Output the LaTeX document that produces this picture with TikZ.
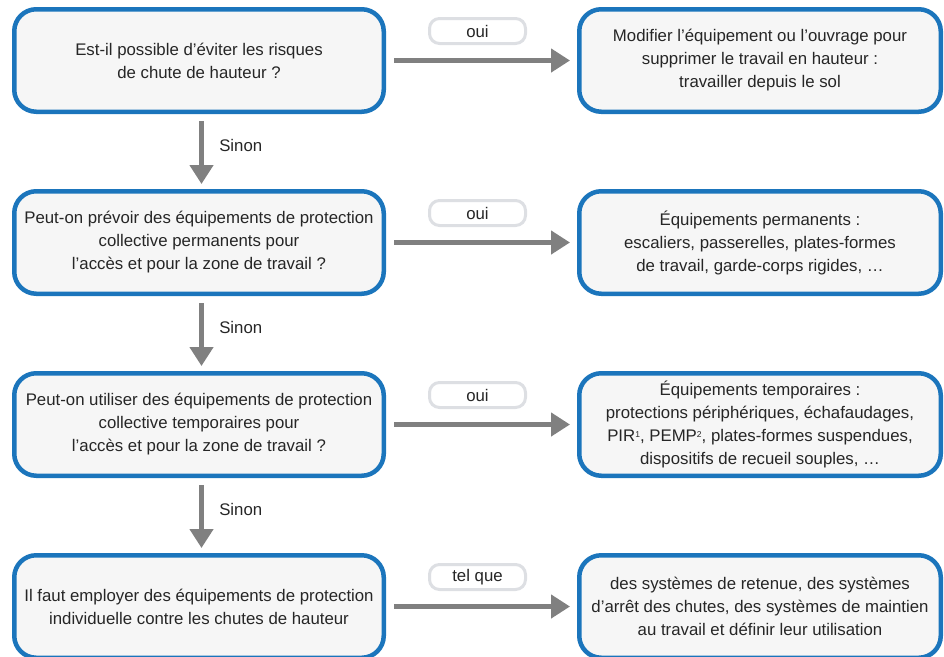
\documentclass[tikz,border=0pt]{standalone}
\usepackage{fontspec}
\setmainfont{Liberation Sans}
\usepackage{xcolor}
\usetikzlibrary{arrows.meta, positioning}

\definecolor{bordbleu}{HTML}{1B75BC}
\definecolor{fondgris}{HTML}{F6F6F6}
\definecolor{flechegris}{HTML}{808080}
\definecolor{cadreclair}{HTML}{DDDFE3}
\definecolor{textegris}{HTML}{262626}

\newcommand{\exposant}[1]{\raisebox{4.5pt}{\fontsize{8.5}{8.5}\selectfont #1}}

\tikzset{
  question/.style={draw=bordbleu, line width=4.5pt, fill=fondgris, rounded corners=22pt,
    minimum width=369.5pt, minimum height=102.5pt, inner sep=0pt, align=center,
    text=textegris, font=\fontsize{16.8}{23}\selectfont},
  reponse/.style={question, minimum width=361.5pt},
  etiquette/.style={draw=cadreclair, line width=3pt, fill=white, rounded corners=10pt,
    minimum width=96pt, minimum height=25pt, inner sep=0pt,
    text=textegris, font=\fontsize{16.8}{20}\selectfont},
  fleche/.style={draw=flechegris, line width=4.5pt, -{Triangle[length=19pt, width=23pt]}},
  sinon/.style={inner sep=0pt, text=textegris, font=\fontsize{16.8}{20}\selectfont}
}

\begin{document}
\begin{tikzpicture}[x=1pt, y=-1pt]
		\useasboundingbox (0,0) rectangle (944,656);

		\node[question] (q1) at (199,60.5) {Est-il possible d’éviter les risques\\de chute de hauteur ?};
		\node[question] (q2) at (199,242.5) {Peut-on prévoir des équipements de protection\\collective permanents pour\\l’accès et pour la zone de travail ?};
		\node[question] (q3) at (199,424.5) {Peut-on utiliser des équipements de protection\\collective temporaires pour\\l’accès et pour la zone de travail ?};
		\node[question] (q4) at (199,606.5) {Il faut employer des équipements de protection\\individuelle contre les chutes de hauteur};

		\node[reponse] (r1) at (760,60.5) {Modifier l’équipement ou l’ouvrage pour\\supprimer le travail en hauteur :\\travailler depuis le sol};
		\node[reponse] (r2) at (760,242.5) {Équipements permanents :\\escaliers, passerelles, plates-formes\\de travail, garde-corps rigides, …};
		\node[reponse] (r3) at (760,424.5) {Équipements temporaires :\\protections périphériques, échafaudages,\\PIR\exposant{1}, PEMP\exposant{2}, plates-formes suspendues,\\dispositifs de recueil souples, …};
		\node[reponse] (r4) at (760,606.5) {des systèmes de retenue, des systèmes\\d’arrêt des chutes, des systèmes de maintien\\au travail et définir leur utilisation};

		\node[etiquette] (t1) at (477.5,31) {oui};
		\node[etiquette] (t2) at (477.5,213) {oui};
		\node[etiquette] (t3) at (477.5,395) {oui};
		\node[etiquette] (t4) at (477.5,577) {tel que};

		\foreach \n in {1,2,3,4}
			\draw[fleche] ([xshift=8pt]q\n.east) -- ([xshift=-7pt]r\n.west);

		\draw[fleche] ([xshift=2.5pt, yshift=-7pt]q1.south) -- ([xshift=2.5pt, yshift=5pt]q2.north) node[sinon, pos=0.39, right=15.5pt] (s1) {Sinon};
		\draw[fleche] ([xshift=2.5pt, yshift=-7pt]q2.south) -- ([xshift=2.5pt, yshift=5pt]q3.north) node[sinon, pos=0.39, right=15.5pt] (s2) {Sinon};
		\draw[fleche] ([xshift=2.5pt, yshift=-7pt]q3.south) -- ([xshift=2.5pt, yshift=5pt]q4.north) node[sinon, pos=0.39, right=15.5pt] (s3) {Sinon};
	\end{tikzpicture}
\end{document}
